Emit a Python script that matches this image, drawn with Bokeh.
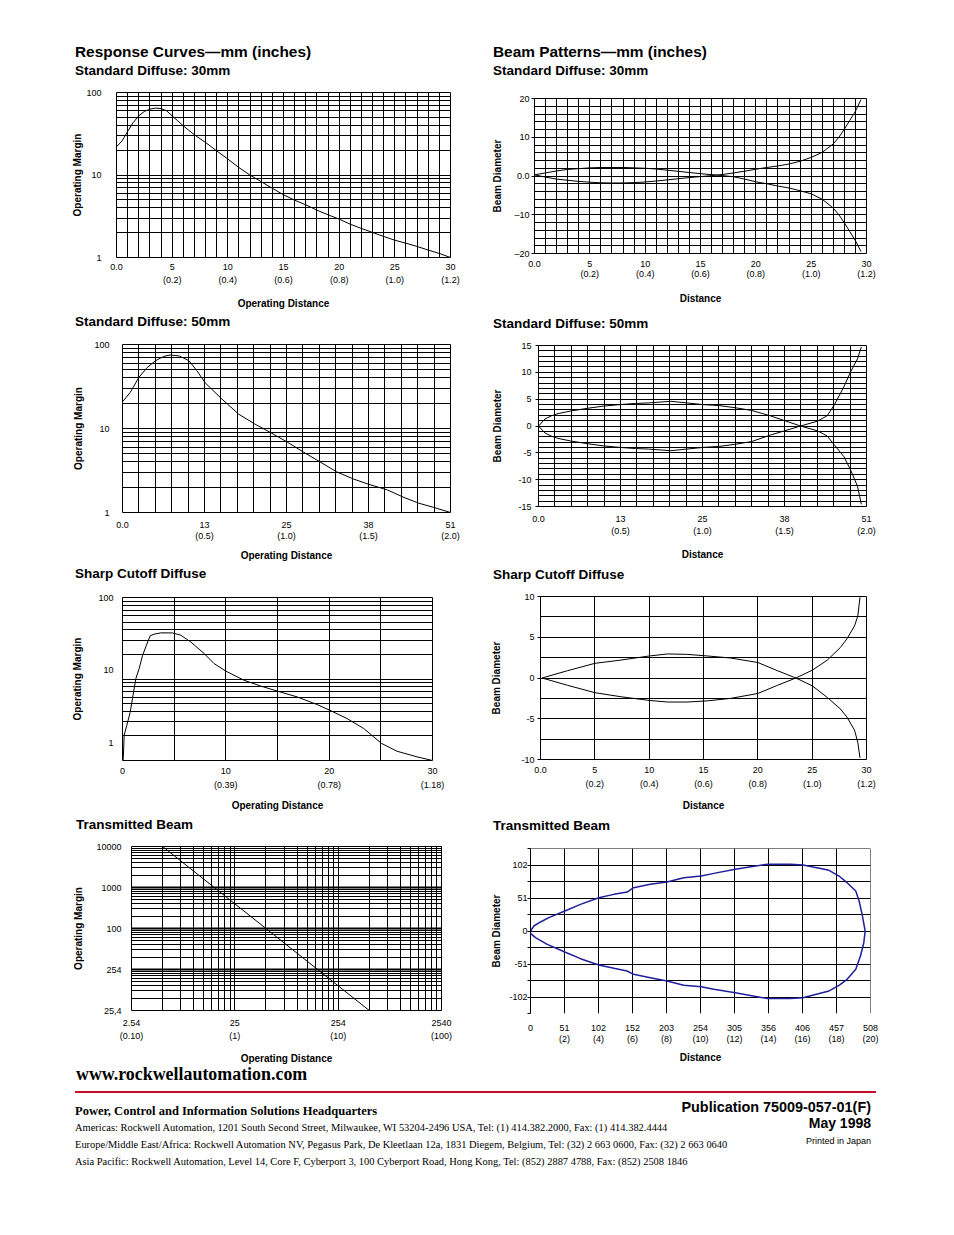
from bokeh.plotting import figure
from bokeh.models import FixedTicker, Div, Grid, Span
from bokeh.layouts import column, row
from bokeh.embed import file_html
from bokeh.resources import INLINE

# ---------------------------------------------------------------- data
# Response curve, Standard Diffuse 30 mm (distance mm -> operating margin)
sd30_dist = [0, 0.5, 1, 1.5, 2, 2.5, 3, 3.5, 4, 4.5, 5, 5.5, 6, 7, 8, 9, 10, 11, 12, 13, 14,
             15, 16, 17, 18, 19, 20, 21, 22, 23, 24, 25, 26, 27, 28, 29, 30]
sd30_margin = [22.0, 25.9, 33.7, 43.3, 52.1, 58.9, 62.8, 64.6, 64.0, 60.0, 52.1, 45.4, 39.4,
               30.7, 24.8, 19.6, 15.6, 12.3, 9.95, 8.3, 6.9, 5.75, 4.95, 4.35, 3.75, 3.29,
               2.92, 2.53, 2.25, 2.01, 1.80, 1.62, 1.49, 1.36, 1.23, 1.12, 1.0]

# Beam pattern, Standard Diffuse 30 mm (distance mm -> beam edge mm)
bd30_dist = [0, 1, 2, 3, 4, 5, 6, 7, 8, 9, 10, 11, 12, 13, 14, 15, 16, 16.5, 17, 18, 19, 20,
             21, 22, 23, 24, 25, 26, 27, 27.5, 28, 28.5, 29, 29.5]
bd30_edge_a = [0.3, 0.8, 1.3, 1.7, 1.9, 2.1, 2.2, 2.2, 2.2, 2.1, 2.0, 1.8, 1.5, 1.2, 0.9, 0.6,
               0.35, 0.25, 0.1, -0.2, -0.8, -1.5, -2.0, -2.6, -3.1, -3.8, -4.6, -6.0, -8.3,
               -10.0, -12.1, -14.4, -16.7, -19.5]
bd30_edge_b = [0.3, -0.3, -0.8, -1.1, -1.4, -1.6, -1.75, -1.8, -1.8, -1.7, -1.55, -1.3, -1.0,
               -0.7, -0.4, -0.15, 0.1, 0.25, 0.4, 0.8, 1.25, 1.75, 2.2, 2.6, 3.1, 3.8, 4.8,
               6.1, 8.3, 10.0, 12.1, 14.4, 16.7, 19.7]

# Response curve, Standard Diffuse 50 mm
sd50_dist = [0, 1.2, 2.54, 3.8, 5.1, 6.35, 7.4, 8.8, 10.3, 11.5, 12.8, 15.4, 18.0, 20.5, 23.1,
             25.5, 28.1, 30.6, 33.2, 35.8, 38.1, 41.0, 43.6, 45.9, 48.2, 50.8]
sd50_margin = [20.8, 26.9, 40.6, 53, 64, 72, 75, 73, 64, 49, 35, 22.4, 14.8, 11.3, 8.8, 6.9,
               5.2, 4.0, 3.04, 2.5, 2.17, 1.86, 1.51, 1.29, 1.15, 1.0]

# Beam pattern, Standard Diffuse 50 mm
bd50_dist = [0, 1, 2, 3, 5, 7.6, 10, 12.7, 15, 17, 20.5, 23, 25.4, 28, 30.5, 33, 35.9, 38.1,
             40.6, 43.2, 44.7, 45.8, 47.3, 48.3, 49.4, 50.0]
bd50_edge_a = [0, 1.3, 1.9, 2.3, 2.8, 3.3, 3.7, 4.0, 4.2, 4.3, 4.6, 4.3, 4.0, 3.8, 3.4, 2.9,
               1.9, 1.0, 0, -0.9, -1.85, -3.5, -5.7, -8.1, -11.2, -14.6]
bd50_edge_b = [0, -1.3, -1.9, -2.3, -2.8, -3.3, -3.7, -4.0, -4.2, -4.3, -4.6, -4.3, -4.0, -3.8,
               -3.4, -2.9, -1.7, -0.9, 0, 0.9, 1.9, 3.9, 7.3, 10.0, 12.5, 14.7]

# Response curve, Sharp Cutoff Diffuse
sc_dist = [0.06, 0.1, 0.16, 0.42, 0.74, 0.97, 1.29, 1.61, 1.93, 2.25, 2.67, 3.06, 3.7, 4.83,
           5.63, 6.6, 7.89, 8.85, 10.0, 11.75, 13.36, 15.03, 16.9, 18.83, 20.05, 21.73, 23.34,
           25.07, 26.56, 28.49, 30.0]
sc_margin = [1.0, 1.27, 2.04, 2.71, 3.88, 5.8, 10.1, 13.4, 19.2, 24.8, 33.8, 35.5, 36.8, 36.8,
             34.5, 28.5, 20.6, 15.5, 12.5, 9.67, 8.2, 7.08, 6.03, 4.86, 4.14, 3.27, 2.47, 1.62,
             1.30, 1.11, 1.0]

# Beam pattern, Sharp Cutoff Diffuse
scb_dist = [0.15, 2.5, 5, 7.4, 10, 11.7, 13.5, 15.4, 17.5, 20, 21.8, 23.5, 25, 26.4, 27.6,
            28.2, 28.9, 29.2, 29.4]
scb_edge_a = [0, 0.9, 1.8, 2.2, 2.7, 2.95, 2.9, 2.7, 2.45, 1.9, 0.9, 0, -0.95, -2.4, -3.8,
              -4.8, -6.4, -7.9, -9.8]
scb_edge_b = [0, -0.9, -1.8, -2.3, -2.75, -2.95, -2.95, -2.8, -2.5, -1.9, -0.9, 0, 0.95, 2.2,
              3.75, 4.8, 6.4, 7.6, 9.9]

# Response curve, Transmitted Beam (log-log)
tb_dist = [5.08, 508.0]
tb_margin = [10000, 1]

# Beam pattern, Transmitted Beam
tbb_up_dist = [0, 5, 15, 27.4, 51.3, 74.7, 102, 124.5, 144.4, 154, 179, 204, 229, 255, 274,
               306, 329, 354, 388, 407, 428, 446, 461, 473, 486, 491, 496, 500]
tbb_up_edge = [0, 7.7, 13.9, 20.5, 30.8, 41.0, 51.3, 56.4, 60.0, 66.7, 71.8, 75.4, 82.0, 84.6,
               88.7, 94.9, 99.0, 102.6, 102.6, 101.6, 97.5, 93.4, 84.6, 74.4, 61.6, 46.2, 23.0, 0]
tbb_lo_dist = [0, 7.5, 25, 51.3, 74.7, 102, 124.5, 144.4, 154, 179, 204, 229, 255, 274, 306,
               354, 388, 407, 446, 461, 473, 486, 493, 498, 500]
tbb_lo_edge = [-3.6, -10.3, -20.5, -32.3, -42.6, -52.3, -57.5, -61.6, -66.7, -71.8, -77.0,
               -83.6, -85.7, -89.8, -94.9, -104.0, -104.0, -102.6, -92.3, -83.6, -74.4, -59.0,
               -38.5, -18.0, 0]

# ---------------------------------------------------------------- tick labels
mm30_ticks = [0, 5, 10, 15, 20, 25, 30]
mm30_labels = ["0.0", "5\n(0.2)", "10\n(0.4)", "15\n(0.6)", "20\n(0.8)", "25\n(1.0)", "30\n(1.2)"]
mm50_ticks = [0, 12.7, 25.4, 38.1, 50.8]
mm50_labels = ["0.0", "13\n(0.5)", "25\n(1.0)", "38\n(1.5)", "51\n(2.0)"]
sc_x_ticks = [0, 10, 20, 30]
sc_x_labels = ["0", "10\n(0.39)", "20\n(0.78)", "30\n(1.18)"]
margin_ticks = [1, 10, 100]
margin_labels = ["1", "10", "100"]
sc_margin_tick_pos = [1.63, 12.8, 100]          # where the printed labels sit
bd30_y_ticks = [-20, -10, 0, 10, 20]
bd30_y_labels = ["\u201320", "\u201310", "0.0", "10", "20"]
bd50_y_ticks = [-15, -10, -5, 0, 5, 10, 15]
bd50_y_labels = ["-15", "-10", "-5", "0", "5", "10", "15"]
scb_y_ticks = [-10, -5, 0, 5, 10]
scb_y_labels = ["-10", "-5", "0", "5", "10"]
tb_x_ticks = [2.54, 25.4, 254, 2540]
tb_x_labels = ["2.54\n(0.10)", "25\n(1)", "254\n(10)", "2540\n(100)"]
tb_y_ticks = [1, 10, 100, 1000, 10000]
tb_y_labels = ["25,4", "254", "100", "1000", "10000"]
tbb_x_ticks = [0, 50.8, 101.6, 152.4, 203.2, 254.0, 304.8, 355.6, 406.4, 457.2, 508.0]
tbb_x_labels = ["0", "51\n(2)", "102\n(4)", "152\n(6)", "203\n(8)", "254\n(10)", "305\n(12)",
                "356\n(14)", "406\n(16)", "457\n(18)", "508\n(20)"]
tbb_y_ticks = [-127.0, -101.6, -76.2, -50.8, -25.4, 0.0, 25.4, 50.8, 76.2, 101.6, 127.0]
tbb_y_labels = ["", "-102", "", "-51", "", "0", "", "51", "", "102", ""]

# ---------------------------------------------------------------- styling helpers
SANS = "'Liberation Sans', Arial, Helvetica, sans-serif"
SERIF = "'Liberation Serif', 'Times New Roman', serif"


def lin_lines(a, step, n):
    return [round(a + i * step, 4) for i in range(n + 1)]


def log_lines(base, decades):
    out = [round(base * k * 10 ** e, 6) for e in range(decades) for k in range(1, 10)]
    return out + [round(base * 10 ** decades, 6)]


def make_fig(h, bl, br, bt, bb, xr, yr, xt="linear", yt="linear"):
    p = figure(width=469, height=h, x_range=xr, y_range=yr, x_axis_type=xt, y_axis_type=yt,
               output_backend="svg", toolbar_location=None, title=None,
               min_border_left=bl, min_border_right=br, min_border_top=bt, min_border_bottom=bb)
    p.frame_align = False
    p.outline_line_color = "black"
    p.outline_line_width = 1
    p.outline_line_alpha = 1
    p.border_fill_color = "white"
    p.background_fill_color = "white"
    return p


def setup_axes(p, xt, xl, yt, yl, xlabel, ylabel, x_so, x_lh, x_als, y_so, y_als, y_out=0):
    xa, ya = p.xaxis[0], p.yaxis[0]
    xa.ticker = FixedTicker(ticks=list(xt))
    xa.major_label_overrides = dict(zip(xt, xl))
    ya.ticker = FixedTicker(ticks=list(yt))
    ya.major_label_overrides = dict(zip(yt, yl))
    xa.axis_label = xlabel
    ya.axis_label = ylabel
    for ax in (xa, ya):
        ax.axis_line_color = None
        ax.major_tick_in = 0
        ax.minor_tick_line_color = None
        ax.major_label_text_font = SANS
        ax.major_label_text_font_size = "9px"
        ax.major_label_text_color = "black"
        ax.axis_label_text_font = SANS
        ax.axis_label_text_font_size = "10px"
        ax.axis_label_text_font_style = "bold"
        ax.axis_label_text_color = "black"
    xa.major_tick_out = 0
    xa.major_tick_line_color = None
    xa.major_label_standoff = x_so
    xa.major_label_text_line_height = x_lh
    xa.axis_label_standoff = x_als
    ya.major_tick_out = y_out
    ya.major_tick_line_color = "black" if y_out else None
    ya.major_label_standoff = y_so
    ya.axis_label_standoff = y_als


def setup_grid(p, xlines, ylines, xw=1, yw=1):
    p.xgrid[0].ticker = FixedTicker(ticks=list(xlines))
    p.ygrid[0].ticker = FixedTicker(ticks=list(ylines))
    for g, w in ((p.xgrid[0], xw), (p.ygrid[0], yw)):
        g.grid_line_color = "black"
        g.grid_line_alpha = 1
        g.grid_line_width = w


def curve(p, x, y, color="black", w=1):
    p.line(x, y, line_color=color, line_width=w)


# ---------------------------------------------------------------- charts
f1 = make_fig(228, 108, 27, 8, 55, (0, 30), (1, 100), yt="log")
setup_grid(f1, lin_lines(0, 1, 30), log_lines(1, 2))
setup_axes(f1, mm30_ticks, mm30_labels, margin_ticks, margin_labels,
           "Operating Distance", "Operating Margin", 4, 1.34, 10, 15, 0)
curve(f1, sd30_dist, sd30_margin)

f2 = make_fig(222, 57, 80, 8, 59, (0, 30), (-20, 20))
setup_grid(f2, lin_lines(0, 1, 30), lin_lines(-20, 2, 20))
setup_axes(f2, mm30_ticks, mm30_labels, bd30_y_ticks, bd30_y_labels,
           "Distance", "Beam Diameter", 5, 1.04, 11, 2, 8, y_out=3)
curve(f2, bd30_dist, bd30_edge_a)
curve(f2, bd30_dist, bd30_edge_b)

f3 = make_fig(228, 114, 27, 8, 52, (0, 50.8), (1, 100), yt="log")
setup_grid(f3, lin_lines(0, 2.54, 20), log_lines(1, 2))
setup_axes(f3, mm50_ticks, mm50_labels, margin_ticks, margin_labels,
           "Operating Distance", "Operating Margin", 7, 1.18, 6, 13, 7)
curve(f3, sd50_dist, sd50_margin)

f4 = make_fig(227, 61, 80, 8, 58, (0, 50.8), (-15, 15))
setup_grid(f4, lin_lines(0, 2.54, 20), lin_lines(-15, 1, 30))
setup_axes(f4, mm50_ticks, mm50_labels, bd50_y_ticks, bd50_y_labels,
           "Distance", "Beam Diameter", 7, 1.28, 10, 4, 12, y_out=3)
curve(f4, bd50_dist, bd50_edge_a)
curve(f4, bd50_dist, bd50_edge_b)

f5 = make_fig(227, 114, 45, 8, 56, (0, 30), (1, 100), yt="log")
setup_grid(f5, lin_lines(0, 5, 6), log_lines(1, 2))
setup_axes(f5, sc_x_ticks, sc_x_labels, sc_margin_tick_pos, margin_labels,
           "Operating Distance", "Operating Margin", 5, 1.41, 7, 9, 12)
curve(f5, sc_dist, sc_margin)

f6 = make_fig(228, 63, 80, 8, 57, (0, 30), (-10, 10))
setup_grid(f6, lin_lines(0, 5, 6), lin_lines(-10, 2.5, 8))
setup_axes(f6, mm30_ticks, mm30_labels, scb_y_ticks, scb_y_labels,
           "Distance", "Beam Diameter", 5, 1.44, 8, 3, 16, y_out=3)
curve(f6, scb_dist, scb_edge_a)
curve(f6, scb_dist, scb_edge_b)

f7 = make_fig(228, 123, 36, 8, 54, (2.54, 2540), (1, 10000), xt="log", yt="log")
setup_grid(f7, log_lines(2.54, 3), [10, 100, 1000], xw=1, yw=2)
f7.add_layout(Grid(dimension=1, ticker=FixedTicker(ticks=log_lines(1, 4)),
                   grid_line_color="black", grid_line_width=1))
setup_axes(f7, tb_x_ticks, tb_x_labels, tb_y_ticks, tb_y_labels,
           "Operating Distance", "Operating Margin", 7, 1.31, 9, 10, 9)
curve(f7, tb_dist, tb_margin)

TBB_X = (0, 508.0)
TBB_Y = (-127.0, 127.0)
f8 = make_fig(226, 53, 76, 8, 53, TBB_X, TBB_Y)
f8.outline_line_color = None
setup_grid(f8, tbb_x_ticks, tbb_y_ticks)
setup_axes(f8, tbb_x_ticks, tbb_x_labels, tbb_y_ticks, tbb_y_labels,
           "Distance", "Beam Diameter", 9, 1.11, 5, 0, 4, y_out=3)
f8.yaxis[0].axis_line_color = "black"
f8.add_layout(Span(location=TBB_Y[1], dimension="width", line_color="black", line_width=1))
f8.add_layout(Span(location=TBB_X[1], dimension="height", line_color="black", line_width=1))
curve(f8, tbb_up_dist, tbb_up_edge, color="#1f1f9c", w=1.5)
curve(f8, tbb_lo_dist, tbb_lo_edge, color="#1f1f9c", w=1.5)


# ---------------------------------------------------------------- text blocks
def text_div(w, h, items, extra=""):
    parts = [extra]
    for it in items:
        pos = f"left:{it['left']}px;" if "left" in it else f"right:{it['right']}px;"
        parts.append(
            f'<div style="position:absolute;{pos}top:{it["top"]}px;font-family:{it["font"]};'
            f'font-size:{it["size"]}px;font-weight:{it.get("weight", "normal")};'
            f'line-height:{it["size"]}px;white-space:nowrap;color:#000;">{it["text"]}</div>')
    html = f'<div style="position:relative;width:{w}px;height:{h}px;">' + "".join(parts) + "</div>"
    return Div(text=html, width=w, height=h, margin=(0, 0, 0, 0))


def head(text, left, top, size=13.5):
    return dict(text=text, left=left, top=top, size=size, font=SANS, weight="bold")


dL0 = text_div(469, 76, [head("Response Curves\u2014mm (inches)", 67, 36, 15.4),
                         head("Standard Diffuse: 30mm", 67, 55.8)])
dL1 = text_div(469, 24, [head("Standard Diffuse: 50mm", 67, 3.3)])
dL2 = text_div(469, 25, [head("Sharp Cutoff Diffuse", 67, 2.9)])
dL3 = text_div(469, 22, [head("Transmitted Beam", 68, 1.6)])

dR0 = text_div(469, 82, [head("Beam Patterns\u2014mm (inches)", 16, 36, 15.4),
                         head("Standard Diffuse: 30mm", 16, 55.8)])
dR1 = text_div(469, 25, [head("Standard Diffuse: 50mm", 16, 4.9)])
dR2 = text_div(469, 24, [head("Sharp Cutoff Diffuse", 16, 3.6)])
dR3 = text_div(469, 24, [head("Transmitted Beam", 16, 2.6)])

RULE = ('<div style="position:absolute;left:67px;top:25px;width:801px;height:2px;'
        'background-color:#c8102e;"></div>')
footer_items = [
    dict(text="www.rockwellautomation.com", left=68, top=-0.4, size=17.9, font=SERIF, weight="bold"),
    dict(text="Power, Control and Information Solutions Headquarters", left=67, top=38.5,
         size=12.5, font=SERIF, weight="bold"),
    dict(text="Americas: Rockwell Automation, 1201 South Second Street, Milwaukee, WI 53204-2496 USA, "
              "Tel: (1) 414.382.2000, Fax: (1) 414.382.4444", left=67, top=57, size=10.45, font=SERIF),
    dict(text="Europe/Middle East/Africa: Rockwell Automation NV, Pegasus Park, De Kleetlaan 12a, "
              "1831 Diegem, Belgium, Tel: (32) 2 663 0600, Fax: (32) 2 663 0640", left=67, top=74,
         size=10.45, font=SERIF),
    dict(text="Asia Pacific: Rockwell Automation, Level 14, Core F, Cyberport 3, 100 Cyberport Road, "
              "Hong Kong, Tel: (852) 2887 4788, Fax: (852) 2508 1846", left=67, top=91, size=10.45,
         font=SERIF),
    dict(text="Publication 75009-057-01(F)", right=75, top=33.8, size=14.4, font=SANS, weight="bold"),
    dict(text="May 1998", right=75, top=50.2, size=14, font=SANS, weight="bold"),
    dict(text="Printed in Japan", right=75, top=70.9, size=9, font=SANS),
]
footer = text_div(938, 114, footer_items, extra=RULE)

left_col = column(dL0, f1, dL1, f3, dL2, f5, dL3, f7, spacing=0)
right_col = column(dR0, f2, dR1, f4, dR2, f6, dR3, f8, spacing=0)
page = column(row(left_col, right_col, spacing=0), footer, spacing=0, margin=(8, 0, 0, 8))

with open("out.html", "w", encoding="utf-8") as fh:
    fh.write(file_html(page, INLINE, title="Response Curves and Beam Patterns"))
